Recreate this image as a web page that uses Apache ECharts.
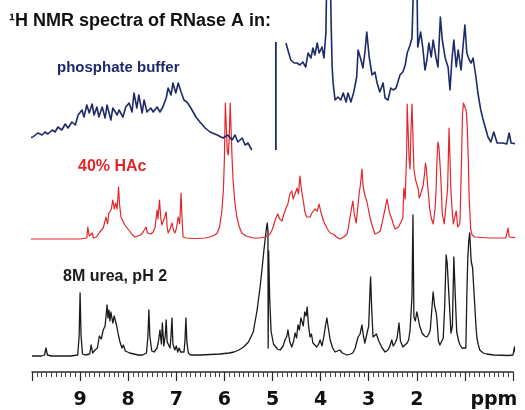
<!DOCTYPE html>
<html>
<head>
<meta charset="utf-8">
<script src="https://cdn.jsdelivr.net/npm/echarts@6/dist/echarts.min.js"></script>
<style>
html,body{margin:0;padding:0;background:#fff;}
#c{width:525px;height:410px;}
</style>
</head>
<body>
<div id="c"></div>
<script>
// ppm axis ticks
var tickValues = [10, 9, 8, 7, 6, 5, 4, 3, 2, 1, 0];
var tickLabels = {9: '9', 8: '8', 7: '7', 6: '6', 5: '5', 4: '4', 3: '3', 2: '2', 1: 'ppm'};

// Spectrum labels
var titleText = '\u00B9H NMR spectra of RNase A in:';
var labelPhosphate = 'phosphate buffer';
var labelHAc = '40% HAc';
var labelUrea = '8M urea, pH 2';

// 8M urea, pH 2 (black) : [ppm, intensity]
var ureaSpectrum = [
[10.0,0],[9.8,0],[9.74,1],[9.71,8],[9.68,1],[9.6,0],[9.2,0],[9.05,1],[9.02,20],[9.0,63],[8.98,20],[8.95,2],[8.9,1],[8.8,2],[8.77,11],[8.74,3],[8.69,6],[8.64,8],[8.6,20],[8.56,17],[8.52,26],[8.48,30],[8.44,51],[8.42,38],[8.4,46],[8.38,35],[8.36,44],[8.32,33],[8.29,40],[8.27,41],[8.24,30],[8.2,20],[8.17,14],[8.13,8],[8.1,11],[8.06,5],[8.02,6],[7.97,3],[7.93,4],[7.88,2],[7.8,1],[7.7,1],[7.62,3],[7.59,20],[7.57,46],[7.55,20],[7.51,5],[7.46,4],[7.4,8],[7.37,15],[7.34,26],[7.31,12],[7.29,33],[7.26,10],[7.23,20],[7.21,36],[7.19,14],[7.17,15],[7.13,8],[7.11,20],[7.09,38],[7.07,12],[7.03,6],[7.0,10],[6.97,4],[6.94,8],[6.91,4],[6.88,5],[6.84,4],[6.82,15],[6.8,38],[6.78,14],[6.75,3],[6.7,1],[6.5,1],[6.3,1.5],[6.1,2],[5.9,3],[5.8,4],[5.7,6],[5.6,9],[5.5,14],[5.4,24],[5.32,46],[5.26,68],[5.22,86],[5.18,105],[5.15,118],[5.12,130],[5.11,133],[5.095,125],[5.09,8],[5.08,105],[5.06,60],[5.03,25],[4.98,12],[4.9,7],
[4.84,6],[4.78,10],[4.74,16],[4.7,20],[4.68,26],[4.64,14],[4.6,9],[4.56,15],[4.53,23],[4.5,18],[4.47,31],[4.44,26],[4.41,38],[4.39,36],[4.36,30],[4.33,44],[4.3,40],[4.28,49],[4.25,30],[4.22,19],[4.19,22],[4.16,13],[4.12,15],[4.08,9],[4.04,12],[4.01,16],[3.97,10],[3.93,20],[3.9,30],[3.87,38],[3.84,28],[3.8,16],[3.75,8],[3.7,4],[3.65,5],[3.6,6],[3.55,3],[3.45,1],[3.38,2],[3.33,3],[3.28,8],[3.25,14],[3.22,19],[3.18,22],[3.14,31],[3.11,20],[3.08,13],[3.04,15],[3.0,30],[2.97,70],[2.96,79],[2.94,50],[2.91,19],[2.87,17],[2.84,22],[2.82,23],[2.79,15],[2.76,13],[2.72,8],[2.66,4],[2.6,6],[2.56,10],[2.52,16],[2.49,10],[2.45,13],[2.41,18],[2.37,33],[2.34,15],[2.29,9],[2.25,8],[2.2,13],[2.17,16],[2.14,26],[2.1,60],[2.08,141],[2.06,39],[2.03,35],[2.0,44],[1.98,40],[1.94,30],[1.89,23],[1.84,20],[1.79,19],[1.75,22],[1.72,26],[1.69,45],[1.66,64],[1.63,50],[1.6,44],[1.58,36],[1.55,15],[1.52,11],[1.48,15],[1.45,18],[1.42,50],[1.39,101],[1.37,94],[1.35,96],[1.32,50],[1.29,23],[1.26,30],[1.23,99],[1.2,60],[1.17,24],[1.13,15],[1.1,11],[1.06,8],[1.02,6],[0.98,8],[0.96,60],[0.94,98],[0.92,115],[0.9,123],[0.87,95],[0.84,88],[0.8,86],[0.77,30],[0.75,18],[0.72,11],[0.69,6],[0.62,3],[0.55,2],[0.4,1],[0.1,0.5],[0.0,1],[-0.03,9],[-0.06,1],[-0.2,0]
];

// 40% HAc (red)
var hacSpectrum = [
[10.1,0],[9.0,0],[8.86,1],[8.84,12],[8.81,3],[8.77,2],[8.75,6],[8.72,1],[8.66,2],[8.62,4],[8.59,7],[8.55,5],[8.52,11],[8.49,9],[8.46,22],[8.43,15],[8.4,26],[8.38,24],[8.35,30],[8.32,39],[8.29,30],[8.26,36],[8.23,30],[8.2,52],[8.18,35],[8.15,22],[8.11,18],[8.07,14],[8.03,12],[7.99,9],[7.96,7],[7.91,4],[7.86,2],[7.8,3],[7.75,4],[7.7,6],[7.66,8],[7.63,12],[7.6,6],[7.57,4],[7.53,5],[7.48,7],[7.44,12],[7.4,29],[7.38,20],[7.35,39],[7.32,20],[7.3,14],[7.27,18],[7.24,22],[7.21,27],[7.19,12],[7.17,6],[7.13,10],[7.09,16],[7.06,9],[7.03,6],[7.0,10],[6.96,22],[6.93,15],[6.9,46],[6.88,20],[6.86,2],[6.8,1],[6.6,0.5],[6.4,1],[6.3,2],[6.2,4],[6.15,6],[6.1,12],[6.05,29],[6.02,50],[6.0,80],[5.98,136],[5.96,136],[5.94,88],[5.92,84],[5.9,100],[5.88,136],[5.86,136],[5.84,80],[5.82,59],[5.78,35],[5.74,22],[5.69,12],[5.64,6],[5.55,3],[5.4,1],[5.26,1],[5.15,2],
[5.05,5],[5.0,10],[4.95,18],[4.92,22],[4.89,25],[4.85,20],[4.8,18],[4.77,24],[4.74,28],[4.71,32],[4.68,35],[4.64,45],[4.6,48],[4.57,40],[4.53,41],[4.51,48],[4.49,51],[4.46,45],[4.43,63],[4.4,50],[4.37,41],[4.35,35],[4.33,28],[4.29,22],[4.26,20],[4.22,22],[4.18,26],[4.15,25],[4.12,30],[4.07,28],[4.03,35],[4.0,28],[3.97,23],[3.94,18],[3.91,15],[3.86,10],[3.8,6],[3.74,5],[3.67,2],[3.6,0],[3.52,2],[3.45,5],[3.42,12],[3.39,21],[3.36,30],[3.33,38],[3.3,25],[3.26,16],[3.23,30],[3.2,45],[3.17,55],[3.14,70],[3.12,55],[3.1,48],[3.07,42],[3.04,38],[3.0,28],[2.97,21],[2.92,12],[2.87,5],[2.82,6],[2.76,8],[2.73,14],[2.7,21],[2.66,30],[2.62,40],[2.59,32],[2.56,25],[2.52,20],[2.49,15],[2.45,10],[2.41,8],[2.38,12],[2.35,15],[2.32,18],[2.29,21],[2.27,51],[2.24,40],[2.21,90],[2.2,135],[2.18,135],[2.16,80],[2.14,70],[2.12,110],[2.1,135],[2.08,135],[2.06,70],[2.03,60],[2.0,58],[1.97,50],[1.95,41],[1.92,45],[1.89,50],[1.87,53],[1.84,65],[1.82,76],[1.8,70],[1.77,51],[1.73,30],[1.7,21],[1.66,15],[1.62,30],[1.6,48],[1.58,80],[1.56,97],[1.54,92],[1.52,90],[1.5,61],[1.47,25],[1.43,15],[1.39,15],[1.36,50],[1.34,90],[1.33,111],[1.31,80],[1.29,48],[1.26,25],[1.24,15],[1.21,22],[1.18,28],[1.15,12],[1.13,11],[1.11,15],[1.1,20],[1.07,80],[1.05,125],[1.03,136],[1.0,134],[0.97,128],[0.95,110],[0.93,81],[0.91,40],[0.88,10],[0.85,4],[0.8,2],[0.5,1],[0.15,1],[0.12,3],[0.1,11],[0.08,2],[-0.1,1]
];

// phosphate buffer (navy), low-field part
var phosphateLow = [
[10.1,7],[9.98,8],[9.88,12],[9.79,10],[9.73,13],[9.67,11],[9.58,15],[9.52,13],[9.46,18],[9.38,15],[9.31,21],[9.25,17],[9.17,23],[9.1,20],[9.04,30],[8.96,35],[8.92,28],[8.86,40],[8.81,32],[8.75,41],[8.71,30],[8.65,38],[8.61,28],[8.54,38],[8.48,27],[8.44,40],[8.36,25],[8.32,37],[8.23,30],[8.19,35],[8.11,28],[8.05,38],[7.98,42],[7.92,33],[7.88,52],[7.82,37],[7.78,50],[7.71,32],[7.67,45],[7.61,33],[7.53,37],[7.48,33],[7.4,38],[7.34,33],[7.28,38],[7.21,47],[7.17,57],[7.11,50],[7.07,62],[7.01,52],[6.96,62],[6.9,53],[6.84,45],[6.78,43],[6.71,38],[6.65,33],[6.59,28],[6.51,23],[6.4,17],[6.3,13],[6.15,10],[6.03,7],[5.93,10],[5.84,5],[5.78,10],[5.72,3],[5.63,7],[5.57,0],[5.51,2],[5.43,-5]
];
// phosphate buffer (navy), residual water line
var phosphateWater = [[4.93,-5],[4.93,103]];
// phosphate buffer (navy), high-field part
var phosphateHigh = [
[4.72,102],[4.68,95],[4.62,85],[4.55,82],[4.49,82],[4.43,80],[4.37,83],[4.31,78],[4.26,92],[4.2,87],[4.16,97],[4.12,90],[4.07,102],[4.03,92],[3.97,98],[3.93,87],[3.89,112],[3.87,175],[3.8,175],[3.78,120],[3.76,78],[3.74,62],[3.7,45],[3.64,48],[3.58,45],[3.53,52],[3.47,43],[3.43,52],[3.37,43],[3.31,53],[3.25,68],[3.22,95],[3.16,85],[3.12,77],[3.08,92],[3.04,113],[2.99,88],[2.93,70],[2.87,73],[2.83,63],[2.77,53],[2.7,62],[2.66,47],[2.6,45],[2.54,57],[2.49,55],[2.43,57],[2.35,70],[2.29,73],[2.24,80],[2.2,92],[2.14,100],[2.1,107],[2.06,175],[2.0,175],[1.98,98],[1.92,113],[1.87,95],[1.83,75],[1.79,85],[1.75,102],[1.7,88],[1.66,105],[1.6,87],[1.56,78],[1.51,128],[1.47,105],[1.41,87],[1.35,78],[1.31,55],[1.27,85],[1.23,105],[1.18,78],[1.14,95],[1.08,75],[1.04,98],[1.0,120],[0.96,92],[0.91,85],[0.87,82],[0.83,87],[0.77,68],[0.73,52],[0.67,35],[0.62,25],[0.56,15],[0.52,8],[0.46,3],[0.4,13],[0.33,2],[0.21,2],[0.13,1],[0.08,12],[0.04,2],[-0.1,1]
];

var chart = echarts.init(document.getElementById('c'), null, {renderer: 'canvas'});
var navy = '#1e2a68', red = '#e3262b', black = '#1a1a1a';
var baseFont = '"Liberation Sans", Arial, Helvetica, sans-serif';

function lineSeries(data, yIdx, color, width) {
  return {
    type: 'line', data: data, yAxisIndex: yIdx, showSymbol: false, symbol: 'none',
    clip: false, silent: true, animation: false,
    lineStyle: {color: color, width: width, join: 'round'}
  };
}

chart.setOption({
  backgroundColor: '#ffffff',
  animation: false,
  grid: {left: 32, right: 12, top: 0, bottom: 38, containLabel: false},
  xAxis: {
    type: 'value', min: 0, max: 10, interval: 1, inverse: true,
    axisLine: {show: true, onZero: false, lineStyle: {color: '#2a2a2a', width: 1.5}},
    axisTick: {show: true, length: 9, lineStyle: {color: '#2a2a2a', width: 1.2}},
    minorTick: {show: true, splitNumber: 10, length: 5, lineStyle: {color: '#444', width: 1}},
    splitLine: {show: false},
    axisLabel: {
      margin: 19,
      fontFamily: '"DejaVu Sans", sans-serif', fontWeight: 'bold', fontSize: 19, color: '#111',
      formatter: function (v) {
        var t = tickLabels[Math.round(v)];
        if (!t) return '';
        if (t === 'ppm') return '{p|ppm}';
        return t;
      },
      rich: {p: {fontFamily: '"DejaVu Sans", sans-serif', fontWeight: 'bold', fontSize: 19, color: '#111', padding: [0, 0, 0, 58]}}
    }
  },
  yAxis: [
    {type: 'value', show: false, min: -16, max: 356},
    {type: 'value', show: false, min: -133, max: 239},
    {type: 'value', show: false, min: -227, max: 145}
  ],
  series: [
    lineSeries(ureaSpectrum, 0, black, 1.3),
    lineSeries(hacSpectrum, 1, red, 1.2),
    lineSeries(phosphateLow, 2, navy, 1.6),
    lineSeries(phosphateWater, 2, navy, 1.8),
    lineSeries(phosphateHigh, 2, navy, 1.6)
  ],
  graphic: [
    {type: 'text', x: 9, y: 21, silent: true, style: {text: titleText, font: 'bold 18px ' + baseFont, fill: '#111', verticalAlign: 'middle', textVerticalAlign: 'middle'}},
    {type: 'text', x: 57, y: 68, silent: true, style: {text: labelPhosphate, font: 'bold 15px ' + baseFont, fill: navy, verticalAlign: 'middle', textVerticalAlign: 'middle'}},
    {type: 'text', x: 78, y: 167, silent: true, style: {text: labelHAc, font: 'bold 16px ' + baseFont, fill: red, verticalAlign: 'middle', textVerticalAlign: 'middle'}},
    {type: 'text', x: 63, y: 277, silent: true, style: {text: labelUrea, font: 'bold 16px ' + baseFont, fill: black, verticalAlign: 'middle', textVerticalAlign: 'middle'}}
  ]
});
</script>
</body>
</html>
